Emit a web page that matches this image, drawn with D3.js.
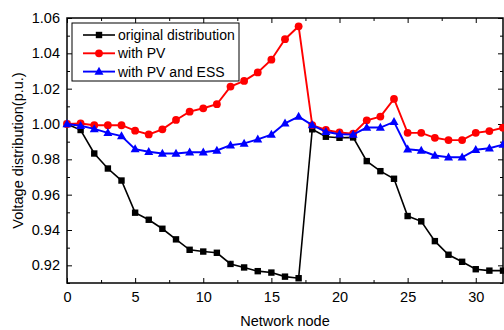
<!DOCTYPE html>
<html lang="en">
<head>
<meta charset="UTF-8">
<title>Voltage distribution</title>
<script src="https://d3js.org/d3.v7.min.js"></script>
<style>
  body { margin: 0; background: #fff; }
  text { font-family: "Liberation Sans", Arial, sans-serif; }
</style>
</head>
<body>
<div id="chart"></div>
<script>
// data
const nodes = d3.range(0, 33);
const original = [1.000, 0.9966, 0.9833, 0.9748, 0.968, 0.9498, 0.9458, 0.9407, 0.9347, 0.9288,
  0.9278, 0.9271, 0.9208, 0.9188, 0.9167, 0.9159, 0.9136, 0.9127, 0.997, 0.9928,
  0.9922, 0.9924, 0.979, 0.9733, 0.969, 0.9479, 0.9449, 0.9337, 0.926, 0.922,
  0.9178, 0.917, 0.917];
const withPV = [1.000, 1.0003, 0.9993, 0.9993, 0.9993, 0.9962, 0.9941, 0.997, 1.0023, 1.007,
  1.0089, 1.0112, 1.0212, 1.0244, 1.0292, 1.0364, 1.048, 1.0553, 0.9994, 0.9966,
  0.9952, 0.9945, 1.0021, 1.0042, 1.0142, 0.995, 0.995, 0.9922, 0.9909, 0.9909,
  0.995, 0.996, 0.9979];
const withPVESS = [1.000, 0.999, 0.9972, 0.995, 0.9932, 0.9858, 0.9843, 0.9833, 0.9833, 0.984,
  0.984, 0.985, 0.988, 0.989, 0.9913, 0.994, 1.0004, 1.0042, 0.9994, 0.9956,
  0.9942, 0.994, 0.998, 0.998, 1.0012, 0.9857, 0.985, 0.9822, 0.9812, 0.9812,
  0.9854, 0.9863, 0.9883];
const xTicks = [0, 5, 10, 15, 20, 25, 30];
const yTicks = [0.92, 0.94, 0.96, 0.98, 1.00, 1.02, 1.04, 1.06];

const series = [
  { name: "original distribution", values: original, color: "#000000", shape: "square", width: 1.6 },
  { name: "with PV", values: withPV, color: "#ff0000", shape: "circle", width: 1.9 },
  { name: "with PV and ESS", values: withPVESS, color: "#0000ff", shape: "triangle", width: 1.9 }
];

const W = 504, H = 330;
const margin = { top: 18, right: 1, bottom: 47, left: 67 };

const svg = d3.select("#chart").append("svg")
  .attr("width", W).attr("height", H);

const x = d3.scaleLinear().domain([0, 32]).range([margin.left, W - margin.right]);
const y = d3.scaleLinear().domain([0.91, 1.06]).range([H - margin.bottom, margin.top]);

const x0 = x.range()[0], x1 = x.range()[1];
const y0 = y.range()[0], y1 = y.range()[1];

const fontSize = "14.5px";

// axes: ticks point inward
const xMinor = d3.range(0, 32.01, 2.5).filter(v => !xTicks.includes(v));
const yMinor = d3.range(0.91, 1.06, 0.02).map(v => +v.toFixed(2));

svg.append("g")
  .attr("transform", `translate(0,${y0})`)
  .call(d3.axisBottom(x).tickValues(xTicks).tickSize(-5).tickPadding(9).tickFormat(d3.format("d")))
  .call(g => g.select(".domain").remove())
  .call(g => g.selectAll("text").style("font-size", fontSize).attr("fill", "#000"));
svg.append("g")
  .attr("transform", `translate(0,${y0})`)
  .call(d3.axisBottom(x).tickValues(xMinor).tickSize(-3).tickFormat(""))
  .call(g => g.select(".domain").remove());
svg.append("g")
  .attr("transform", `translate(0,${y1})`)
  .call(d3.axisTop(x).tickValues(xTicks).tickSize(-5).tickFormat(""))
  .call(g => g.select(".domain").remove());
svg.append("g")
  .attr("transform", `translate(0,${y1})`)
  .call(d3.axisTop(x).tickValues(xMinor).tickSize(-3).tickFormat(""))
  .call(g => g.select(".domain").remove());

svg.append("g")
  .attr("transform", `translate(${x0},0)`)
  .call(d3.axisLeft(y).tickValues(yTicks).tickSize(-5).tickPadding(7).tickFormat(d3.format(".2f")))
  .call(g => g.select(".domain").remove())
  .call(g => g.selectAll("text").style("font-size", fontSize).attr("fill", "#000"));
svg.append("g")
  .attr("transform", `translate(${x0},0)`)
  .call(d3.axisLeft(y).tickValues(yMinor).tickSize(-3).tickFormat(""))
  .call(g => g.select(".domain").remove());
svg.append("g")
  .attr("transform", `translate(${x1},0)`)
  .call(d3.axisRight(y).tickValues(yTicks).tickSize(-5).tickFormat(""))
  .call(g => g.select(".domain").remove());
svg.append("g")
  .attr("transform", `translate(${x1},0)`)
  .call(d3.axisRight(y).tickValues(yMinor).tickSize(-3).tickFormat(""))
  .call(g => g.select(".domain").remove());

svg.selectAll(".tick line").attr("stroke", "#000").attr("stroke-width", 1);

// frame
svg.append("rect")
  .attr("x", x0).attr("y", y1)
  .attr("width", x1 - x0).attr("height", y0 - y1)
  .attr("fill", "none").attr("stroke", "#000").attr("stroke-width", 1.5);

// axis titles
svg.append("text")
  .attr("x", (x0 + x1) / 2).attr("y", 326)
  .attr("text-anchor", "middle")
  .style("font-size", fontSize)
  .text("Network node");

svg.append("text")
  .attr("transform", `translate(23,${(y0 + y1) / 2}) rotate(-90)`)
  .attr("text-anchor", "middle")
  .style("font-size", fontSize)
  .text("Voltage distribution(p.u.)");

// markers
function drawMarker(g, shape, color, cx, cy) {
  if (shape === "square") {
    g.append("rect").attr("x", cx - 3.2).attr("y", cy - 3.2)
      .attr("width", 6.4).attr("height", 6.4).attr("fill", color);
  } else if (shape === "circle") {
    g.append("circle").attr("cx", cx).attr("cy", cy).attr("r", 3.9).attr("fill", color);
  } else {
    g.append("path")
      .attr("d", `M${cx},${cy - 4.8}L${cx + 4.5},${cy + 3.2}L${cx - 4.5},${cy + 3.2}Z`)
      .attr("fill", color);
  }
}

const line = d3.line().x(d => x(d[0])).y(d => y(d[1]));

series.forEach(s => {
  const pts = nodes.map((n, i) => [n, s.values[i]]);
  const g = svg.append("g");
  g.append("path")
    .datum(pts)
    .attr("d", line)
    .attr("fill", "none")
    .attr("stroke", s.color)
    .attr("stroke-width", s.width);
  pts.forEach(p => drawMarker(g, s.shape, s.color, x(p[0]), y(p[1])));
});

// legend
const legend = svg.append("g");
legend.append("rect")
  .attr("x", 72).attr("y", 23)
  .attr("width", 167).attr("height", 58)
  .attr("fill", "#fff").attr("stroke", "#000").attr("stroke-width", 1);

series.forEach((s, i) => {
  const ly = 35 + i * 18.3;
  legend.append("line")
    .attr("x1", 83).attr("x2", 115).attr("y1", ly).attr("y2", ly)
    .attr("stroke", s.color).attr("stroke-width", s.width);
  drawMarker(legend, s.shape, s.color, 99, ly);
  legend.append("text")
    .attr("x", 118).attr("y", ly + 5)
    .style("font-size", "14px")
    .text(s.name);
});
</script>
</body>
</html>
